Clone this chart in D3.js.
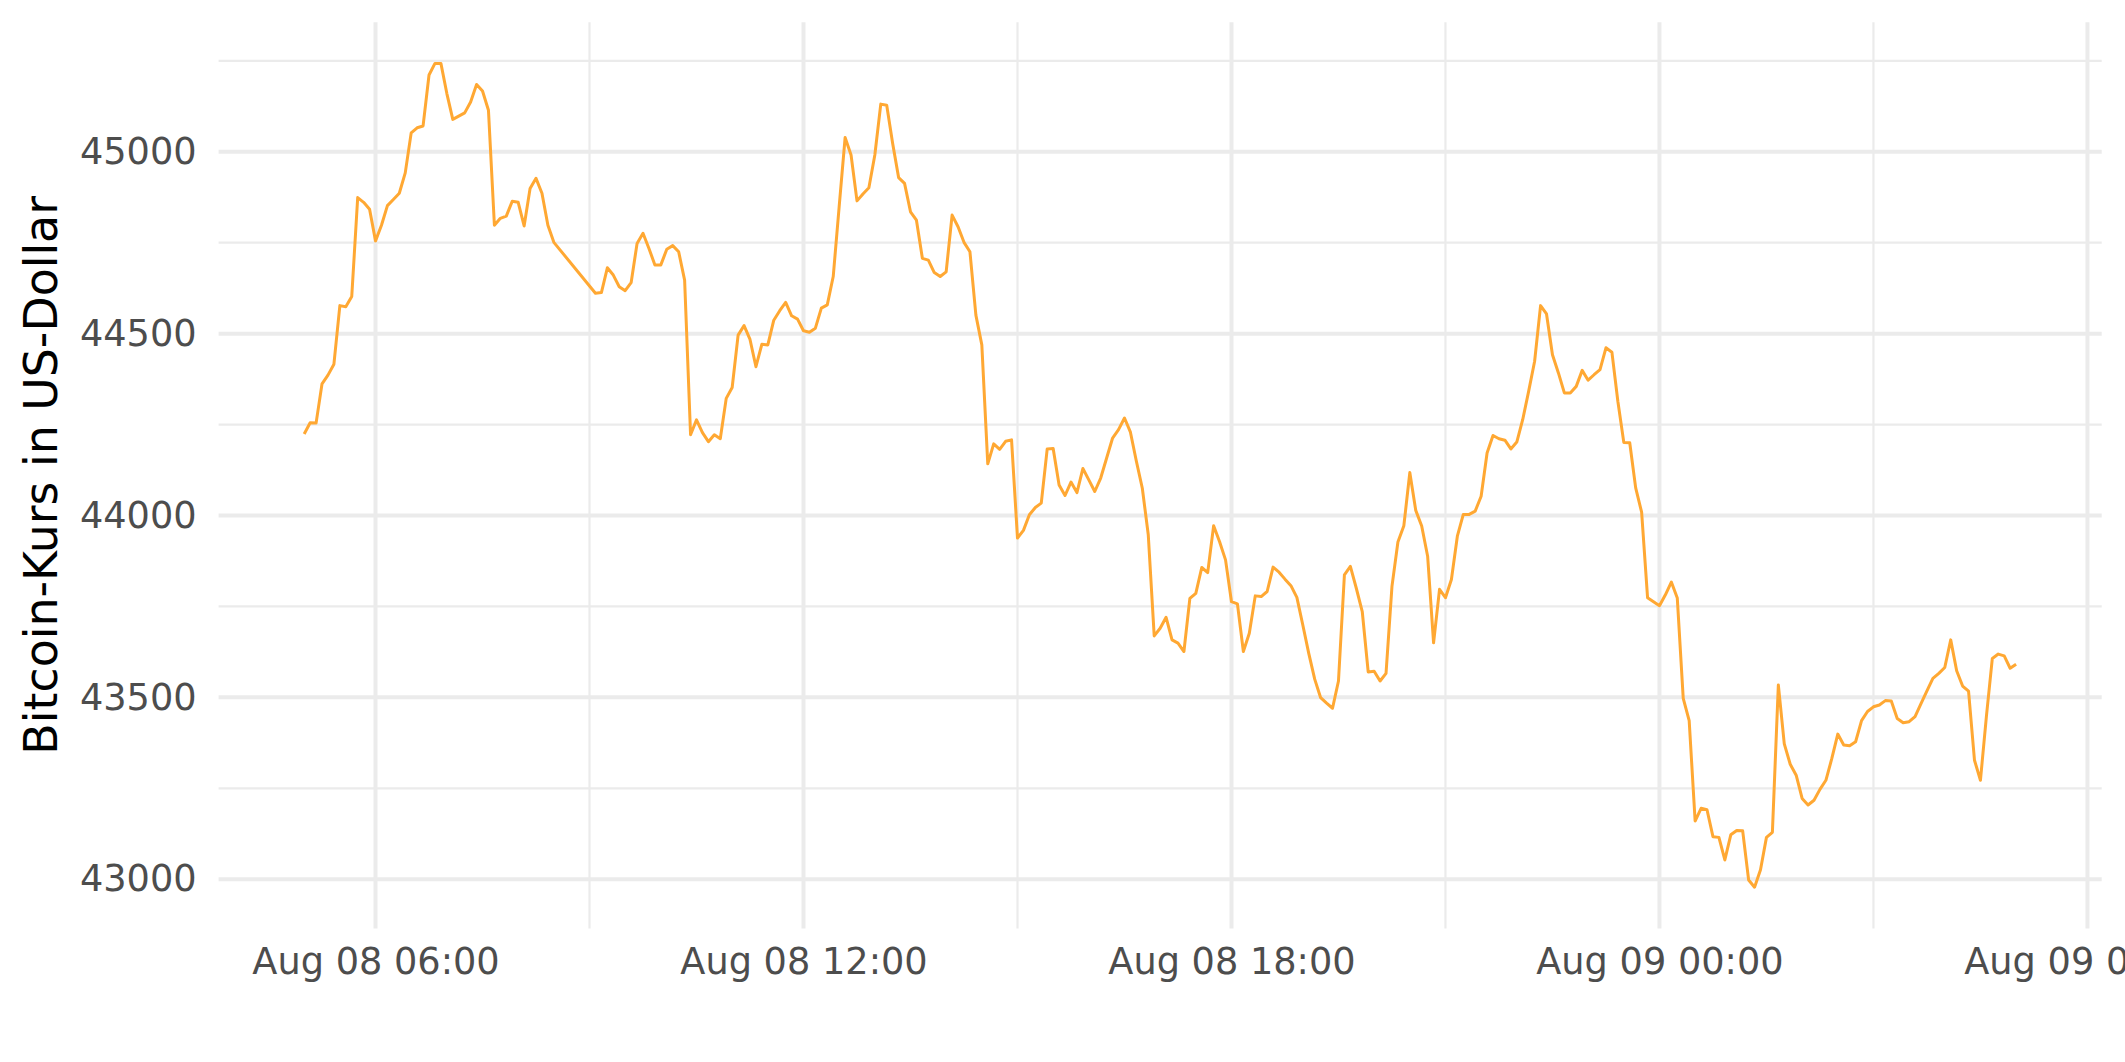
<!DOCTYPE html>
<html>
<head>
<meta charset="utf-8">
<script src="https://cdn.jsdelivr.net/npm/d3@7/dist/d3.min.js"></script>
<style>
  html, body { margin: 0; padding: 0; background: #ffffff; }
  svg { display: block; }
  text { font-family: "DejaVu Sans", sans-serif; }
</style>
</head>
<body>
<svg id="chart" width="2125" height="1062"></svg>
<script>
// ---- DATA (5-minute Bitcoin price, Aug 08 05:00 – Aug 09 05:00; null = no observation) ----
const startTime = "2021-08-08T05:00:00";
const stepMinutes = 5;
const prices = [
  44224, 44255, 44254, 44362, 44386, 44416, 44577, 44574, 44602, 44874, 44861, 44842,
  44755, 44798, 44852, 44869, 44886, 44942, 45052, 45066, 45071, 45211, 45243, 45243,
  45160, 45089, 45098, 45107, 45137, 45185, 45167, 45114, 44798, 44817, 44823, 44864,
  44861, 44796, 44899, 44927, 44886, 44798, 44751, null, null, null, null, null,
  null, 44611, 44613, 44681, 44661, 44629, 44618, 44640, 44748, 44776, 44734, 44689,
  44689, 44732, 44742, 44725, 44647, 44222, 44263, 44228, 44203, 44222, 44211, 44322,
  44352, 44496, 44522, 44484, 44409, 44471, 44469, 44537, 44563, 44586, 44549, 44540,
  44508, 44504, 44515, 44570, 44579, 44657, 44849, 45039, 44991, 44865, 44884, 44901,
  44991, 45131, 45128, 45023, 44929, 44913, 44835, 44812, 44707, 44702, 44668, 44657,
  44670, 44826, 44794, 44751, 44725, 44551, 44469, 44142, 44197, 44182, 44204, 44208,
  43938, 43959, 44002, 44022, 44034, 44183, 44184, 44084, 44055, 44092, 44063, 44129,
  44098, 44066, 44103, 44158, 44213, 44236, 44268, 44229, 44149, 44075, 43947, 43669,
  43690, 43720, 43658, 43649, 43626, 43772, 43786, 43857, 43843, 43972, 43928, 43878,
  43763, 43757, 43626, 43676, 43779, 43777, 43791, 43858, 43844, 43825, 43807, 43775,
  43699, 43621, 43550, 43499, 43484, 43470, 43545, 43837, 43860, 43800, 43736, 43570,
  43572, 43545, 43566, 43805, 43927, 43972, 44118, 44014, 43971, 43888, 43650, 43797,
  43774, 43824, 43943, 44003, 44003, 44012, 44053, 44172, 44220, 44211, 44207, 44183,
  44202, 44264, 44342, 44424, 44577, 44554, 44442, 44392, 44337, 44337, 44355, 44399,
  44372, 44387, 44401, 44461, 44449, 44314, 44201, 44200, 44076, 44009, 43774, 43763,
  43752, 43782, 43817, 43773, 43497, 43436, 43160, 43195, 43191, 43117, 43115, 43053,
  43122, 43134, 43133, 42998, 42978, 43026, 43115, 43129, 43534, 43372, 43316, 43286,
  43222, 43204, 43217, 43247, 43272, 43332, 43399, 43369, 43367, 43378, 43436, 43461,
  43474, 43479, 43491, 43490, 43442, 43430, 43433, 43447, 43483, 43518, 43552, 43566,
  43582, 43658, 43573, 43531, 43517, 43327, 43272, 43447, 43607, 43619, 43614, 43580,
  43591
];
const yTicks = [43000, 43500, 44000, 44500, 45000];
const yMinor = [43250, 43750, 44250, 44750, 45250];
const xTickLabels = ["Aug 08 06:00", "Aug 08 12:00", "Aug 08 18:00", "Aug 09 00:00", "Aug 09 06:00"];
const xTickTimes = ["2021-08-08T06:00:00", "2021-08-08T12:00:00", "2021-08-08T18:00:00", "2021-08-09T00:00:00", "2021-08-09T06:00:00"];
const xMinorTimes = ["2021-08-08T03:00:00", "2021-08-08T09:00:00", "2021-08-08T15:00:00", "2021-08-08T21:00:00", "2021-08-09T03:00:00"];
const yTitle = "Bitcoin-Kurs in US-Dollar";

// ---- BUILD ----
const t0 = new Date(startTime);
const data = prices
  .map((v, i) => ({ t: d3.timeMinute.offset(t0, i * stepMinutes), v }))
  .filter(d => d.v !== null);

const panel = { left: 218.6, right: 2101.7, top: 22.2, bottom: 928.4 };

const tExt = d3.extent(data, d => d.t);
const tPad = (tExt[1] - tExt[0]) * 0.05;
const x = d3.scaleTime()
  .domain([new Date(+tExt[0] - tPad), new Date(+tExt[1] + tPad)])
  .range([panel.left, panel.right]);

const vExt = d3.extent(data, d => d.v);
const vPad = (vExt[1] - vExt[0]) * 0.05;
const y = d3.scaleLinear()
  .domain([vExt[0] - vPad, vExt[1] + vPad])
  .range([panel.bottom, panel.top]);

const svg = d3.select("#chart");
const grid = svg.append("g");
const gridColor = "#EBEBEB";

// minor grid
grid.selectAll(".ymin").data(yMinor.filter(v => y(v) >= panel.top && y(v) <= panel.bottom)).join("line")
  .attr("x1", panel.left).attr("x2", panel.right)
  .attr("y1", d => y(d)).attr("y2", d => y(d))
  .attr("stroke", gridColor).attr("stroke-width", 2.2);
grid.selectAll(".xmin").data(xMinorTimes.map(s => new Date(s)).filter(t => x(t) >= panel.left && x(t) <= panel.right)).join("line")
  .attr("x1", d => x(d)).attr("x2", d => x(d))
  .attr("y1", panel.top).attr("y2", panel.bottom)
  .attr("stroke", gridColor).attr("stroke-width", 2.2);
// major grid
grid.selectAll(".ymaj").data(yTicks).join("line")
  .attr("x1", panel.left).attr("x2", panel.right)
  .attr("y1", d => y(d)).attr("y2", d => y(d))
  .attr("stroke", gridColor).attr("stroke-width", 4);
grid.selectAll(".xmaj").data(xTickTimes.map(s => new Date(s))).join("line")
  .attr("x1", d => x(d)).attr("x2", d => x(d))
  .attr("y1", panel.top).attr("y2", panel.bottom)
  .attr("stroke", gridColor).attr("stroke-width", 4);

// line
const line = d3.line().x(d => x(d.t)).y(d => y(d.v));
svg.append("path")
  .datum(data)
  .attr("d", line)
  .attr("fill", "none")
  .attr("stroke", "#FFA833")
  .attr("stroke-width", 3)
  .attr("stroke-linejoin", "round");

// y axis
const yAxis = d3.axisLeft(y).tickValues(yTicks).tickSize(0).tickPadding(22).tickFormat(d3.format("d"));
const gy = svg.append("g").attr("transform", `translate(${panel.left},0)`).call(yAxis);
gy.select(".domain").remove();
gy.selectAll("text")
  .attr("fill", "#4D4D4D")
  .style("font-size", "36.7px")
  .style("font-family", "'DejaVu Sans', sans-serif");

// x axis
const xAxis = d3.axisBottom(x)
  .tickValues(xTickTimes.map(s => new Date(s)))
  .tickSize(0).tickPadding(20)
  .tickFormat((d, i) => xTickLabels[i]);
const gx = svg.append("g").attr("transform", `translate(0,${panel.bottom})`).call(xAxis);
gx.select(".domain").remove();
gx.selectAll("text")
  .attr("fill", "#4D4D4D")
  .style("font-size", "36.7px")
  .style("font-family", "'DejaVu Sans', sans-serif");

// y title
svg.append("text")
  .attr("transform", `translate(57,${(panel.top + panel.bottom) / 2}) rotate(-90)`)
  .attr("text-anchor", "middle")
  .attr("fill", "#000000")
  .style("font-size", "45.8px")
  .text(yTitle);
</script>
</body>
</html>
